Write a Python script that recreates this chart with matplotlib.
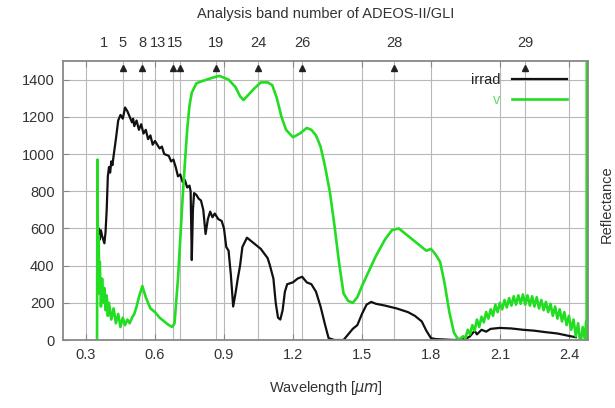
import matplotlib
matplotlib.use("Agg")
import matplotlib.pyplot as plt

plt.rcParams['font.family'] = ['Liberation Sans', 'DejaVu Sans']
plt.rcParams['font.size'] = 10.5
plt.rcParams['text.color'] = '#333333'
plt.rcParams['mathtext.fontset'] = 'dejavusans'

# irradiance (black), wavelength in micrometres
irr_wl = [0.350, 0.355, 0.36, 0.365, 0.37, 0.38, 0.385, 0.39, 0.395, 0.40, 0.405, 0.41,
          0.415, 0.42, 0.43, 0.44, 0.45, 0.46, 0.47, 0.48, 0.49, 0.50, 0.505, 0.51, 0.52,
          0.53, 0.54, 0.55, 0.56, 0.57, 0.58, 0.59, 0.60, 0.62, 0.63, 0.64, 0.66, 0.67,
          0.68, 0.69, 0.70, 0.71, 0.72, 0.73, 0.74, 0.75, 0.755, 0.76, 0.765, 0.77, 0.78,
          0.79, 0.80, 0.81, 0.82, 0.83, 0.84, 0.85, 0.86, 0.875, 0.89, 0.90, 0.91, 0.92,
          0.93, 0.94, 0.95, 0.96, 0.97, 0.98, 1.00, 1.03, 1.06, 1.09, 1.10, 1.115, 1.125,
          1.135, 1.145, 1.155, 1.165, 1.175, 1.20, 1.22, 1.24, 1.26, 1.28, 1.30, 1.32,
          1.34, 1.355, 1.38, 1.42, 1.44, 1.46, 1.48, 1.50, 1.52, 1.54, 1.56, 1.60, 1.65,
          1.70, 1.73, 1.76, 1.78, 1.80, 1.82, 1.90, 1.95, 1.97, 1.99, 2.00, 2.02, 2.04,
          2.06, 2.10, 2.15, 2.20, 2.25, 2.30, 2.35, 2.40, 2.43]
irr = [580, 600, 540, 590, 560, 520, 580, 700, 880, 930, 900, 960,
       940, 990, 1080, 1180, 1210, 1190, 1250, 1230, 1200, 1170, 1190, 1150, 1180,
       1130, 1160, 1110, 1130, 1080, 1100, 1050, 1070, 1030, 1040, 1000, 990, 960,
       970, 930, 880, 890, 850, 860, 820, 830, 800, 430, 700, 790, 780,
       760, 750, 700, 570, 650, 690, 660, 680, 650, 640, 600, 500, 480,
       350, 180, 250, 330, 400, 500, 550, 520, 490, 440, 400, 330, 200,
       120, 110, 160, 260, 300, 310, 330, 340, 310, 300, 260, 180,
       80, 10, 0, 0, 30, 60, 80, 140, 190, 205, 195, 185, 170,
       150, 130, 100, 50, 10, 5, 0, 5, 20, 50, 30, 55, 45,
       60, 65, 62, 55, 50, 42, 35, 22, 15]

# reflectance "v" (green), in left-axis units
v_wl = [0.348, 0.350, 0.352, 0.355, 0.358, 0.36, 0.365, 0.37, 0.375, 0.38, 0.385, 0.39,
        0.395, 0.40, 0.41, 0.42, 0.43, 0.44, 0.45, 0.46, 0.47, 0.48, 0.49, 0.50, 0.51,
        0.52, 0.53, 0.545, 0.56, 0.58, 0.60, 0.62, 0.64, 0.66, 0.675, 0.685, 0.70, 0.71,
        0.72, 0.73, 0.74, 0.75, 0.76, 0.78, 0.80, 0.85, 0.88, 0.92, 0.95, 0.97, 0.985,
        1.00, 1.03, 1.06, 1.09, 1.11, 1.13, 1.15, 1.17, 1.20, 1.23, 1.26, 1.28, 1.30,
        1.32, 1.34, 1.36, 1.38, 1.40, 1.42, 1.44, 1.46, 1.48, 1.50, 1.53, 1.56, 1.60,
        1.63, 1.66, 1.69, 1.72, 1.75, 1.78, 1.80, 1.82, 1.84, 1.86, 1.88, 1.90, 1.92,
        1.94, 1.95, 1.96, 1.97, 1.98, 1.99, 2.00, 2.01, 2.02, 2.03, 2.04, 2.05, 2.06,
        2.07, 2.08, 2.09, 2.10, 2.11, 2.12, 2.13, 2.14, 2.15, 2.16, 2.17, 2.18, 2.19,
        2.20, 2.21, 2.22, 2.23, 2.24, 2.25, 2.26, 2.27, 2.28, 2.29, 2.30, 2.31, 2.32,
        2.33, 2.34, 2.35, 2.36, 2.37, 2.38, 2.39, 2.40, 2.41, 2.42, 2.43, 2.44, 2.45,
        2.46, 2.47, 2.475, 2.477, 2.478]
v = [0, 970, 400, 560, 250, 420, 180, 330, 200, 280, 160, 240,
     130, 200, 110, 170, 90, 140, 70, 120, 80, 110, 90, 120, 140,
     180, 230, 290, 230, 170, 150, 120, 100, 80, 70, 90, 330, 550,
     760, 950, 1130, 1260, 1330, 1380, 1390, 1410, 1420, 1400, 1360, 1310, 1290,
     1310, 1350, 1385, 1385, 1370, 1300, 1200, 1130, 1090, 1110, 1140, 1130, 1100,
     1040, 930, 800, 620, 420, 250, 210, 200, 230, 290, 370, 450, 540,
     590, 600, 570, 540, 510, 480, 490, 460, 420, 300, 150, 40, 0,
     20, 10, 55, 30, 80, 50, 110, 70, 125, 95, 150, 115, 165,
     130, 190, 150, 200, 165, 215, 175, 225, 185, 235, 190, 240, 195,
     245, 190, 240, 185, 235, 180, 230, 170, 215, 160, 205, 150, 195,
     130, 180, 115, 165, 100, 150, 80, 130, 55, 110, 20, 90, -30,
     70, 0, 100, -40, 2000]

# GLI analysis bands (top axis)
band_num = ['1', '5', '8', '13', '15', '19', '24', '26', '28', '29']
band_wl = [0.380, 0.460, 0.545, 0.678, 0.710, 0.865, 1.050, 1.240, 1.640, 2.210]
label_shift = {'1': 0, '13': -11, '15': -4}   # points, labels squeezed in original

x_ticks = [0.3, 0.6, 0.9, 1.2, 1.5, 1.8, 2.1, 2.4]
y_ticks = [0, 200, 400, 600, 800, 1000, 1200, 1400]

fig = plt.figure(figsize=(6.15, 4.08), dpi=100)
ax = fig.add_axes([63/615, 68/408, 525/615, 279/408])

ax.set_xlim(0.2, 2.483)
ax.set_ylim(0, 1500)
ax.set_xticks(x_ticks)
ax.set_xticklabels([f'{t:.1f}' for t in x_ticks])
ax.set_yticks(y_ticks)
ax.tick_params(direction='in', length=4, top=True, right=False, colors='#888888',
               labelcolor='#333333', labelsize=10.5, pad=6)
ax.grid(True, color='#b8b8b8', linewidth=0.8)
for s in ax.spines.values():
    s.set_color('#888888')
    s.set_linewidth(1.3)

# band arrows: thin shaft with a small triangle head near the top
for wl in band_wl[1:]:
    ax.axvline(wl, color='#b8b8b8', linewidth=0.8, zorder=0.5)
    ax.plot([wl], [1462], marker='^', color='#222222', markersize=4, zorder=3)

for n, wl in zip(band_num, band_wl):
    ax.annotate(n, xy=(wl, 1.0), xycoords=('data', 'axes fraction'),
                xytext=(label_shift.get(n, 0), 10), textcoords='offset points',
                ha='center', va='baseline', fontsize=10.5, color='#333333')

ax.plot(irr_wl, irr, color='#111111', linewidth=1.6, label='irrad', zorder=2)
ax.plot(v_wl, v, color='#22dd22', linewidth=1.9, label='v', zorder=2)

leg = ax.legend(loc='upper right', bbox_to_anchor=(1 - 9/525, 1.0), frameon=False,
                markerfirst=False, handlelength=3.8, borderaxespad=0.4,
                labelspacing=0.45, fontsize=10.5)
for txt, c in zip(leg.get_texts(), ['#222222', '#66dd66']):
    txt.set_color(c)

ax.set_title('Analysis band number of ADEOS-II/GLI', pad=31, fontsize=10.5, color='#333333')
ax.set_xlabel(r'Wavelength [$\mu m$]', fontsize=10.5, labelpad=12, color='#333333')
fig.text(600/615, 0.5, 'Reflectance', rotation=90, ha='left', va='center',
         fontsize=10.5, color='#333333')

fig.savefig('out.png', dpi=100)
